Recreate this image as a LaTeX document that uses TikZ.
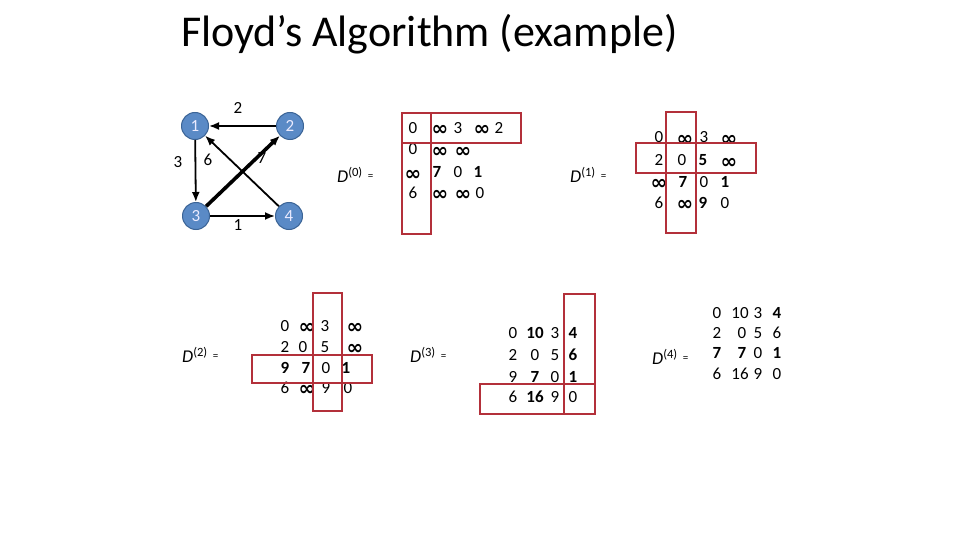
\documentclass[tikz,border=0pt]{standalone}
\usepackage{fontspec}
\setmainfont{Carlito}
\newfontfamily\symfont{DejaVu Sans}
\usetikzlibrary{arrows.meta}

\definecolor{nodeblue}{HTML}{5A8AC6}
\definecolor{nodeedge}{HTML}{3B6496}
\definecolor{boxred}{HTML}{B3303A}

\newcommand\infy{\raisebox{-2pt}{\symfont\bfseries\fontsize{20}{20}\selectfont ∞}}
\newcommand\dlab[1]{\textit{D}\textsuperscript{(#1)}\hspace{5pt}{\fontsize{11}{11}\selectfont\raisebox{3pt}{=}}}

\tikzset{
  vtx/.style={circle,draw=nodeedge,line width=1pt,fill=nodeblue,text=white!92!blue,minimum size=27pt,inner sep=0pt,font=\fontsize{17}{17}\selectfont},
  edge/.style={-{Latex[length=10pt,width=8pt]},line width=1.8pt},
  elabel/.style={font=\fontsize{17}{17}\selectfont,inner sep=1pt},
  entry/.style={anchor=base,font=\fontsize{17}{17}\selectfont,inner sep=0pt},
  dlabel/.style={anchor=west,font=\fontsize{18}{18}\selectfont,inner sep=0pt},
  hl/.style={draw=boxred,line width=2.4pt},
}

\begin{document}
\begin{tikzpicture}[x=1pt,y=-1pt]
\useasboundingbox (0,0) rectangle (960,540);

\node[anchor=base west,font=\fontsize{44}{44}\selectfont,inner sep=0pt] (title) at (181,47) {Floyd’s Algorithm (example)};

% the graph
\node[vtx] (v1) at (195,126) {1};
\node[vtx] (v2) at (290,126) {2};
\node[vtx] (v3) at (196,216) {3};
\node[vtx] (v4) at (289,216) {4};
\draw[edge] (v2) -- (v1);
\draw[edge] (v1) -- (v3);
\draw[edge] (v3) -- (v4);
\draw[edge] (v4) -- (v1);
\draw[edge,line width=3.6pt] (v3) -- (v2);
\node[elabel] (w21) at (238,108) {2};
\node[elabel] (w13) at (178,162) {3};
\node[elabel] (w41) at (208,160) {6};
\node[elabel] (w32) at (262,158) {7};
\node[elabel] (w34) at (238,225) {1};

% D(0)
\node[dlabel] (lab0) at (337,175) {\dlab{0}};
\foreach \y/\row [count=\r] in {129/{413/0,440/\infy,458/3,482/\infy,499/2},
    150/{413/0,440/\infy,463/\infy},
    173/{413/\infy,437/\textbf{7},458/0,478/\textbf{1}},
    193/{413/6,440/\infy,463/\infy,480/0}}
  \foreach \x/\t [count=\c] in \row
    \node[entry] (d0-\r-\c) at (\x,\y+5) {\t};
\draw[hl] (402,113) rectangle (431,234);
\draw[hl] (402,113) rectangle (521,143);

% D(1)
\node[dlabel] (lab1) at (570,175) {\dlab{1}};
\foreach \y/\row [count=\r] in {138/{659/0,685/\infy,704/3,729/\infy},
    161/{659/2,682/0,703/\textbf{5},729/\infy},
    182/{659/\infy,683/\textbf{7},704/0,725/\textbf{1}},
    203/{659/6,685/\infy,703/\textbf{9},725/0}}
  \foreach \x/\t [count=\c] in \row
    \node[entry] (d1-\r-\c) at (\x,\y+5) {\t};
\draw[hl] (666,112) rectangle (696,233);
\draw[hl] (636,143) rectangle (756,173);

% D(2)
\node[dlabel] (lab2) at (182,355) {\dlab{2}};
\foreach \y/\row [count=\r] in {326/{285/0,307/\infy,325/3,355/\infy},
    347/{285/2,303/0,325/5,355/\infy},
    368/{285/\textbf{9},306/\textbf{7},326/0,346/\textbf{1}},
    388/{285/6,307/\infy,326/9,348/0}}
  \foreach \x/\t [count=\c] in \row
    \node[entry] (d2-\r-\c) at (\x,\y+5) {\t};
\draw[hl] (313,293) rectangle (342,411);
\draw[hl] (252,355) rectangle (372,383);

% D(3)
\node[dlabel] (lab3) at (410,355) {\dlab{3}};
\foreach \y/\row [count=\r] in {333/{513/0,535/\textbf{10},555/3,573/\textbf{4}},
    355/{513/2,535/0,555/5,573/\textbf{6}},
    377/{513/9,535/\textbf{7},555/0,573/\textbf{1}},
    397/{513/6,535/\textbf{16},555/9,573/0}}
  \foreach \x/\t [count=\c] in \row
    \node[entry] (d3-\r-\c) at (\x,\y+5) {\t};
\draw[hl] (564,294) rectangle (595,414);
\draw[hl] (480,384) rectangle (595,414);

% D(4)
\node[dlabel] (lab4) at (652,357) {\dlab{4}};
\foreach \y/\row [count=\r] in {313/{717/0,740/10,758/3,777/\textbf{4}},
    333/{717/2,742/0,758/5,777/6},
    353/{717/\textbf{7},742/\textbf{7},758/0,777/\textbf{1}},
    374/{717/6,740/16,758/9,777/0}}
  \foreach \x/\t [count=\c] in \row
    \node[entry] (d4-\r-\c) at (\x,\y+5) {\t};
\end{tikzpicture}
\end{document}
